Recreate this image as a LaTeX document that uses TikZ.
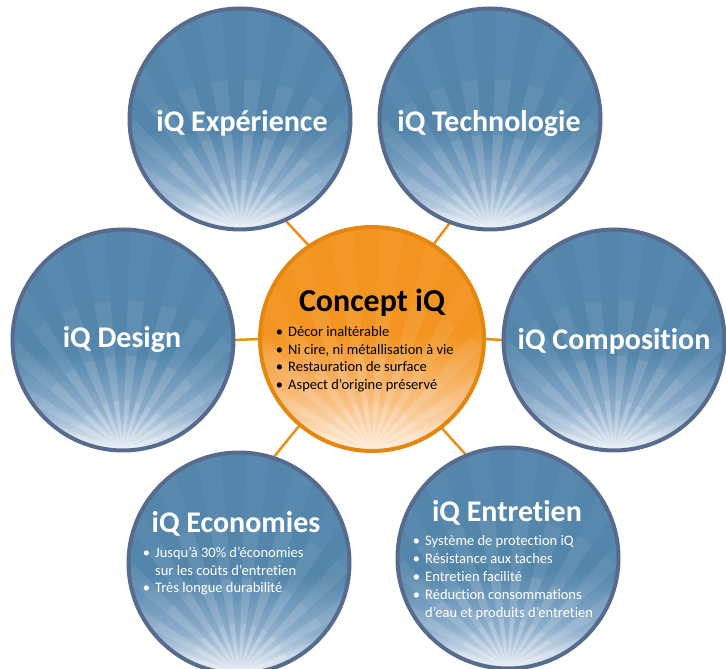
\documentclass[tikz,border=0pt]{standalone}
\usepackage{fontspec}
\setmainfont{Carlito}[RawFeature=-liga]
\usetikzlibrary{backgrounds}
\definecolor{bmain}{HTML}{5486AC}
\definecolor{bmid}{HTML}{8FAFCD}
\definecolor{blight}{HTML}{EEF2F7}
\definecolor{bborder}{HTML}{566B8D}
\definecolor{omain}{HTML}{F39420}
\definecolor{omid}{HTML}{F8BF80}
\definecolor{olight}{HTML}{FDEEDC}
\definecolor{oborder}{HTML}{E5870E}
\definecolor{olink}{HTML}{E8901E}
\pgfdeclareverticalshading{bluesun}{100bp}{color(0bp)=(blight); color(25bp)=(blight); color(34bp)=(bmid); color(47bp)=(bmain); color(100bp)=(bmain)}
\pgfdeclareverticalshading{orangesun}{100bp}{color(0bp)=(olight); color(25bp)=(olight); color(36bp)=(omid); color(51bp)=(omain); color(100bp)=(omain)}
\newcommand\sunrays{%
  \foreach \len/\op in {230/0.03,150/0.05,95/0.08,50/0.14}{%
    \fill[white, opacity=\op]
      \foreach \a in {20,33,...,163}{(path picture bounding box.south) -- +(\a-3.2:\len) -- +(\a+3.2:\len) -- cycle};}}
\newcommand\bul{\llap{\textbullet\hspace{5pt}}}
\begin{document}
\begin{tikzpicture}[x=1pt,y=1pt,
  bub/.style={circle, minimum size=221pt, inner sep=0pt, outer sep=0pt, draw=bborder, line width=4pt, shade, shading=bluesun, path picture={\sunrays}},
  core/.style={circle, minimum size=224pt, inner sep=0pt, outer sep=0pt, draw=oborder, line width=4pt, shade, shading=orangesun, path picture={\sunrays}},
  ttl/.style={text=white, font=\bfseries\fontsize{30}{36}\selectfont, anchor=base, inner sep=0pt},
  item/.style={text=white, font=\fontsize{14.5}{17}\selectfont, anchor=base west, inner sep=0pt},
  link/.style={draw=olink, line width=2.5pt}]
\useasboundingbox (0,0) rectangle (726,669);
\node[core] (c) at (372,330) {};
\node[bub] (tl) at (240,550) {};
\node[bub] (tr) at (490,550) {};
\node[bub] (l) at (123,329) {};
\node[bub] (r) at (614,329) {};
\node[bub] (bl) at (239,106) {};
\node[bub] (br) at (508,111) {};
\begin{scope}[on background layer]
\draw[link] (c.124) -- (tl.-66);
\draw[link] (c.57) -- (tr.-111);
\draw[link] (c.west) -- (l.east);
\draw[link] (c.east) -- (r.west);
\draw[link] (c.-130) -- (bl.72);
\draw[link] (c.-52) -- (br.112);
\end{scope}
% titles
\node[ttl] (ttl) at (242,537) {iQ Expérience};
\node[ttl] (ttr) at (489,537) {iQ Technologie};
\node[ttl] (tll) at (122,321) {iQ Design};
\node[ttl] (trr) at (614,319) {iQ Composition};
\node[ttl] (tbl) at (236,136) {iQ Economies};
\node[ttl] (tbr) at (507,147) {iQ Entretien};
\node[ttl, text=black, font=\bfseries\fontsize{32}{38}\selectfont] (tc) at (372,357) {Concept iQ};
% center items
\node[item, text=black] (c1) at (288,332) {\bul Décor inaltérable};
\node[item, text=black] (c2) at (288,314.5) {\bul Ni cire, ni métallisation à vie};
\node[item, text=black] (c3) at (288,297) {\bul Restauration de surface};
\node[item, text=black] (c4) at (288,279.5) {\bul Aspect d’origine préservé};
% economies items
\node[item] (e1) at (155,111) {\bul Jusqu’à 30\% d’économies};
\node[item] (e2) at (155,93) {sur les coûts d’entretien};
\node[item] (e3) at (155,76) {\bul Très longue durabilité};
% entretien items
\node[item] (n1) at (425,123) {\bul Système de protection iQ};
\node[item] (n2) at (425,105) {\bul Résistance aux taches};
\node[item] (n3) at (425,87) {\bul Entretien facilité};
\node[item] (n4) at (425,69) {\bul Réduction consommations};
\node[item] (n5) at (425,51) {d’eau et produits d’entretien};
\end{tikzpicture}
\end{document}
